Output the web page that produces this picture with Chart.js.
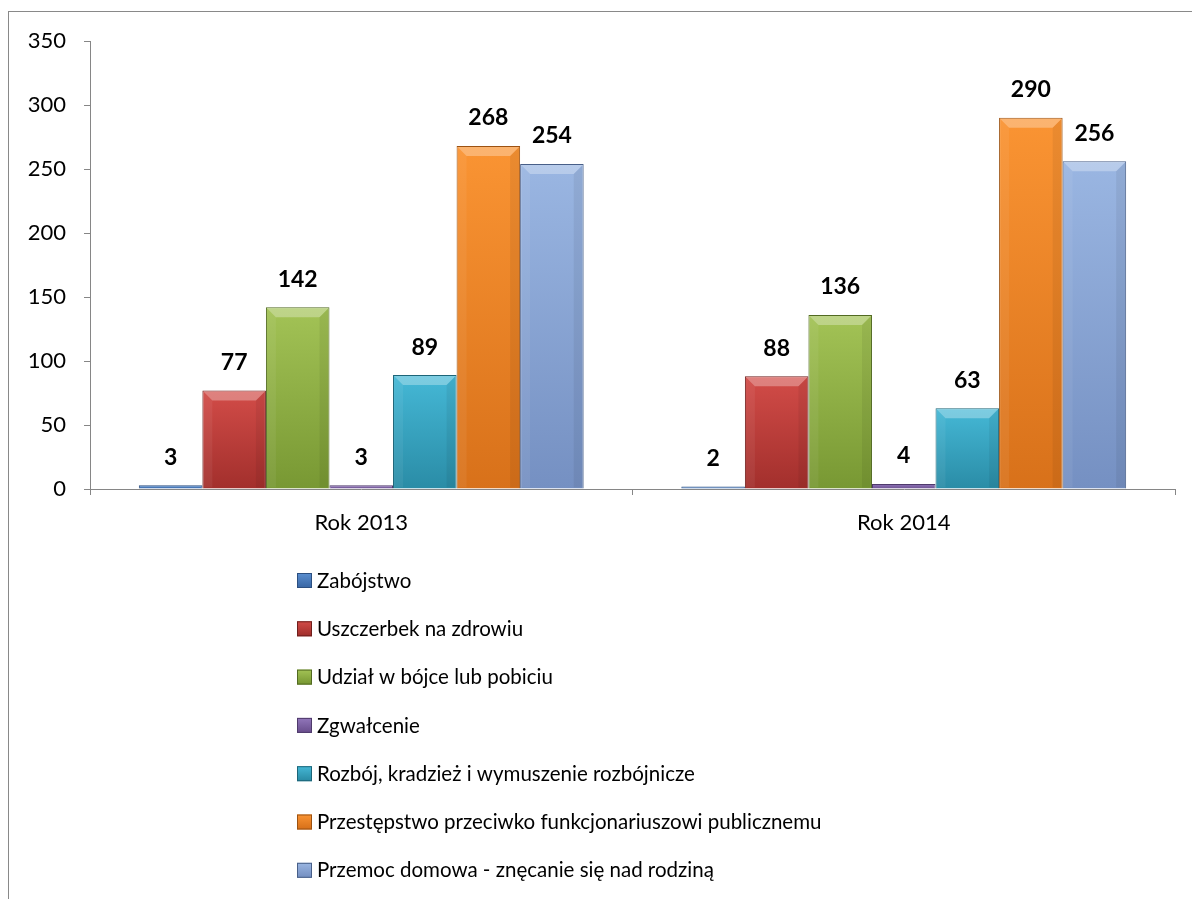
<!DOCTYPE html>
<html>
<head>
<meta charset="utf-8">
<script src="https://cdn.jsdelivr.net/npm/chart.js@4"></script>
<style>
html, body { margin: 0; padding: 0; background: #fff; overflow: hidden; }
#frame { position: absolute; left: 8px; top: 11px; width: 1200px; height: 900px; border: 1px solid #898989; }
#wrap { position: absolute; left: 0; top: 0; width: 1192px; height: 899px; }
</style>
</head>
<body>
<div id="frame"></div>
<div id="wrap"><canvas id="chart"></canvas></div>
<script>
// categories on the x axis
const years = ['Rok 2013', 'Rok 2014'];

// series names (legend)
const seriesNames = [
    'Zabójstwo',
    'Uszczerbek na zdrowiu',
    'Udział w bójce lub pobiciu',
    'Zgwałcenie',
    'Rozbój, kradzież i wymuszenie rozbójnicze',
    'Przestępstwo przeciwko funkcjonariuszowi publicznemu',
    'Przemoc domowa - znęcanie się nad rodziną'
];

// values per series, [2013, 2014]
const zabojstwo = [3, 2];
const uszczerbek = [77, 88];
const bojka = [142, 136];
const zgwalcenie = [3, 4];
const rozboj = [89, 63];
const funkcjonariusz = [268, 290];
const przemoc = [254, 256];

const yTicks = [0, 50, 100, 150, 200, 250, 300, 350];

// light top / dark bottom / outline for each series
const palette = [
    ['#5b8fd0', '#3a68a6', '#2c4f80'],
    ['#d24c48', '#a22f2c', '#6e1f1d'],
    ['#a3c356', '#789833', '#526a22'],
    ['#9277bb', '#6a4f8e', '#4f3a6b'],
    ['#45b8d6', '#2a8ca6', '#1d6578'],
    ['#fa9433', '#d8711a', '#9c5212'],
    ['#9ab6e2', '#7590c2', '#485f88']
];

const seriesValues = [zabojstwo, uszczerbek, bojka, zgwalcenie, rozboj, funkcjonariusz, przemoc];

function barFill(i) {
    return function (ctx) {
        const chart = ctx.chart;
        if (!chart.chartArea || ctx.type !== 'data') return palette[i][1];
        const y = chart.scales.y;
        const top = y.getPixelForValue(ctx.raw);
        const bottom = y.getPixelForValue(0);
        if (bottom - top < 2) return palette[i][1];
        const g = chart.ctx.createLinearGradient(0, top, 0, bottom);
        g.addColorStop(0, palette[i][0]);
        g.addColorStop(1, palette[i][1]);
        return g;
    };
}

// bevel highlight on top of each bar
const bevel = {
    id: 'bevel',
    afterDatasetsDraw(chart) {
        const c = chart.ctx;
        c.save();
        chart.data.datasets.forEach((ds, i) => {
            chart.getDatasetMeta(i).data.forEach(bar => {
                const h = bar.base - bar.y;
                if (h < 14) return;
                const l = bar.x - bar.width / 2 + 1, r = bar.x + bar.width / 2 - 1, t = bar.y + 1;
                const d = 9;
                c.fillStyle = 'rgba(255,255,255,0.3)';
                c.beginPath();
                c.moveTo(l, t); c.lineTo(r, t); c.lineTo(r - d, t + d); c.lineTo(l + d, t + d);
                c.closePath(); c.fill();
                c.fillStyle = 'rgba(255,255,255,0.06)';
                c.beginPath();
                c.moveTo(l, t); c.lineTo(l + d, t + d); c.lineTo(l + d, bar.base - 1); c.lineTo(l, bar.base - 1);
                c.closePath(); c.fill();
                c.fillStyle = 'rgba(0,0,0,0.06)';
                c.beginPath();
                c.moveTo(r, t); c.lineTo(r - d, t + d); c.lineTo(r - d, bar.base - 1); c.lineTo(r, bar.base - 1);
                c.closePath(); c.fill();
            });
        });
        c.restore();
    }
};

// bold value labels above bars
const valueLabels = {
    id: 'valueLabels',
    afterDatasetsDraw(chart) {
        const c = chart.ctx;
        c.save();
        c.font = 'bold 23px Lato';
        c.fillStyle = '#000';
        c.textAlign = 'center';
        c.textBaseline = 'middle';
        chart.data.datasets.forEach((ds, i) => {
            chart.getDatasetMeta(i).data.forEach((bar, j) => {
                c.fillText(ds.data[j], bar.x, bar.y - 28);
            });
        });
        c.restore();
    }
};

// vertical legend under the chart
const listLegend = {
    id: 'listLegend',
    afterDraw(chart) {
        const c = chart.ctx;
        c.save();
        c.font = '20.5px Lato';
        c.textBaseline = 'middle';
        chart.data.datasets.forEach((ds, i) => {
            const y = 580 + i * 48.3;
            const g = c.createLinearGradient(0, y - 7, 0, y + 7);
            g.addColorStop(0, palette[i][0]);
            g.addColorStop(1, palette[i][1]);
            c.fillStyle = g;
            c.fillRect(297, y - 7, 15, 15);
            c.strokeStyle = palette[i][2];
            c.lineWidth = 1;
            c.strokeRect(297.5, y - 6.5, 14, 14);
            c.fillStyle = '#000';
            c.fillText(ds.label, 317, y + 1);
        });
        c.restore();
    }
};

Chart.defaults.font.family = 'Lato';
Chart.defaults.color = '#000';

const ctx = document.getElementById('chart').getContext('2d');
new Chart(ctx, {
    type: 'bar',
    data: {
        labels: years,
        datasets: seriesNames.map((name, i) => ({
            label: name,
            data: seriesValues[i],
            backgroundColor: barFill(i),
            borderColor: palette[i][2],
            borderWidth: 1,
            categoryPercentage: 0.82,
            barPercentage: 1
        }))
    },
    options: {
        responsive: true,
        maintainAspectRatio: false,
        animation: false,
        layout: { padding: { left: 10, right: 17, top: 41, bottom: 350 } },
        plugins: {
            legend: { display: false },
            tooltip: { enabled: false }
        },
        scales: {
            x: {
                grid: { drawOnChartArea: false, tickLength: 6, offset: true, color: '#868686' },
                border: { color: '#868686' },
                ticks: { font: { size: 22 }, padding: 15 },
                afterFit(s) { s.height = 60; }
            },
            y: {
                min: 0,
                max: 350,
                grid: { drawOnChartArea: false, tickLength: 6, color: '#868686' },
                border: { color: '#868686' },
                ticks: { font: { size: 22 }, padding: 18 },
                afterBuildTicks(s) { s.ticks = yTicks.map(v => ({ value: v })); },
                afterFit(s) { s.width = 80; }
            }
        }
    },
    plugins: [bevel, valueLabels, listLegend]
});
</script>
</body>
</html>
